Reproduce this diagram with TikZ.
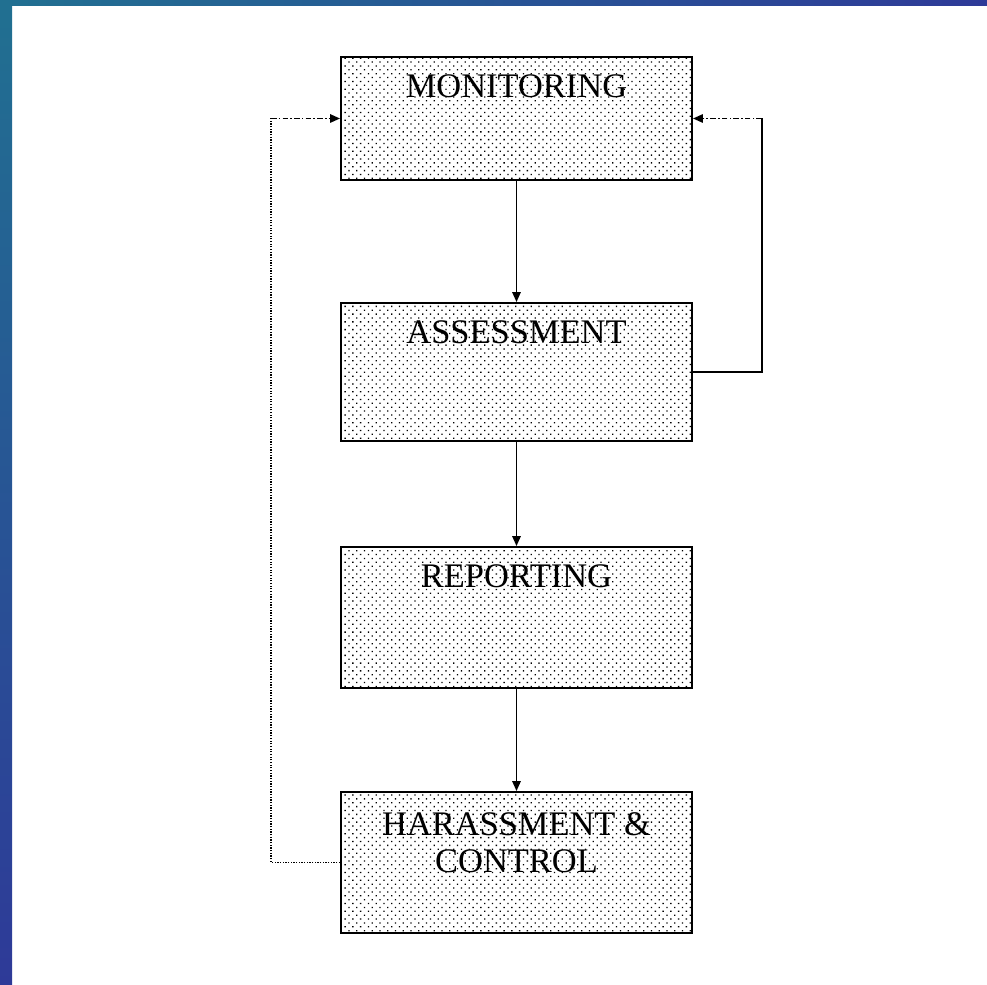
\documentclass[tikz,border=0pt]{standalone}
\usepackage{fontspec}
\setmainfont{Liberation Serif}
\usetikzlibrary{arrows.meta,patterns.meta,positioning}

\definecolor{bandteal}{RGB}{33,112,145}
\definecolor{bandblue}{RGB}{46,58,152}

\begin{document}
\begin{tikzpicture}[x=0.025cm, y=-0.025cm,
    stage/.style={draw, line width=1.4pt, minimum width=8.775cm, inner sep=0pt, pattern={Dots[distance=3.9pt, angle=45, radius=0.65pt]}},
    stagetext/.style={anchor=north, yshift=-0.46cm, inner sep=0pt, align=center, font=\fontsize{24.5}{26.5}\selectfont},
    arr/.style={-{Triangle[length=7pt, width=6pt]}, line width=1pt},
    dotline/.style={densely dotted, line width=0.9pt},
    feedback/.style={dash pattern=on 4pt off 1.5pt on 1.2pt off 1.5pt, line width=1pt, -{Triangle[length=7pt, width=6pt]}}
]
\useasboundingbox (0,0) rectangle (987,985);
\fill[left color=bandteal, right color=bandblue] (0,0) rectangle (987,6);
\fill[top color=bandteal, bottom color=bandblue] (0,0) rectangle (12,985);

\node[stage, minimum height=3.075cm] (mon) at (516.5,118.5) {};
\node[stage, minimum height=3.45cm] (ass) at (516.5,372) {};
\node[stage, minimum height=3.525cm] (rep) at (516.5,617.5) {};
\node[stage, minimum height=3.525cm] (har) at (516.5,862.5) {};
\node[stagetext] (mon-t) at (mon.north) {MONITORING};
\node[stagetext] (ass-t) at (ass.north) {ASSESSMENT};
\node[stagetext] (rep-t) at (rep.north) {REPORTING};
\node[stagetext, yshift=-0.06cm] (har-t) at (har.north) {HARASSMENT \&\\CONTROL};

\draw[arr] (mon) -- (ass);
\draw[arr] (ass) -- (rep);
\draw[arr] (rep) -- (har);

% feedback loops
\coordinate (lb) at (271,862.5);
\coordinate (lt) at (271,118.5);
\draw[dotline] (har.west) -- (lb) -- (lt);
\draw[feedback] (lt) -- (mon.west);
\coordinate (rb) at (762,372);
\coordinate (rt) at (762,118.5);
\draw[line width=1pt] (ass.east) -- (rb) -- (rt);
\draw[feedback] (rt) -- (mon.east);
\end{tikzpicture}
\end{document}
